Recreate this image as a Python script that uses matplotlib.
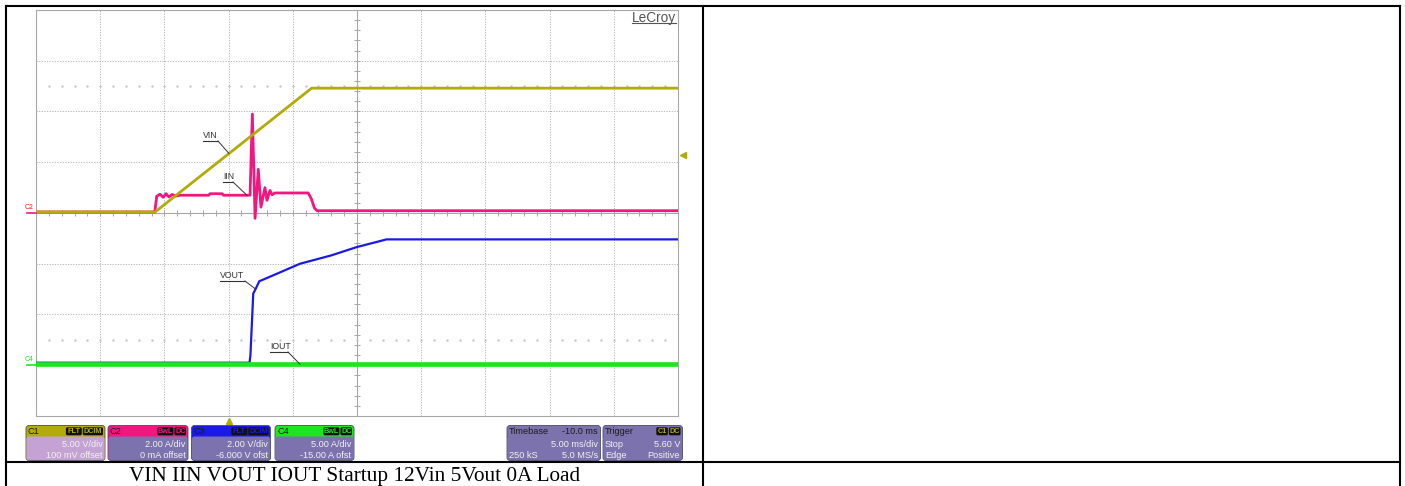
import numpy as np
import matplotlib.pyplot as plt
from matplotlib.patches import FancyBboxPatch
from matplotlib.transforms import offset_copy

W, H = 1405, 486
SANS = 'Liberation Sans'

# time in ms, trigger at t = 0, 5 ms/div
vin_t = [-15.0, -5.73, 6.47, 35.0]
vin_v = [0.0, 0.0, 12.2, 12.2]

iin_t = [-15.0, -5.75, -5.6, -5.35, -5.1, -4.88, -4.64, -4.41, -4.1, -3.8,
         -1.55, -1.45, -0.5, -0.4, 1.67, 1.85, 2.06, 2.31, 2.52, 2.83,
         2.99, 3.22, 3.38, 3.61, 6.2, 6.45, 6.68, 6.88, 35.0]
iin_a = [0.04, 0.04, 0.66, 0.74, 0.62, 0.76, 0.63, 0.73, 0.67, 0.70,
         0.70, 0.76, 0.76, 0.70, 0.70, 3.9, -0.21, 1.72, 0.23, 1.0,
         0.5, 0.89, 0.72, 0.79, 0.79, 0.55, 0.2, 0.09, 0.09]

vout_t = [-15.0, 1.63, 1.7, 1.92, 2.05, 2.39, 3.5, 5.56, 8.0, 10.0, 12.0, 12.3, 35.0]
vout_v = [0.1, 0.1, 0.4, 2.83, 2.95, 3.31, 3.55, 4.0, 4.33, 4.66, 4.92, 4.96, 4.96]

iout_t = [-15.0, 35.0]
iout_a = [0.1, 0.1]

# channel (scale per div, offset)
C1 = (5.0, 0.1)
C2 = (2.0, 0.0)
C3 = (2.0, -6.0)
C4 = (5.0, -15.0)
trig_level = 5.6

col_c1 = '#b3ab08'
col_c2 = '#f2167e'
col_c3 = '#1a1ae8'
col_c4 = '#1ee61e'


def div(vals, ch):
    return (np.asarray(vals, dtype=float) + ch[1]) / ch[0]


fig = plt.figure(figsize=(W / 100, H / 100), dpi=100)
fig.patch.set_facecolor('white')

# scope graticule
ax = fig.add_axes([36 / W, 1 - 416 / H, 642 / W, 406 / H])
ax.set_xlim(-15, 35)
ax.set_ylim(-4, 4)
ax.set_xticks(np.arange(-15, 35.1, 5))
ax.set_yticks(np.arange(-4, 4.1, 1))
ax.tick_params(length=0, labelbottom=False, labelleft=False)
ax.grid(True, color='#b4b4b4', lw=0.7, ls=(0, (1.2, 1.5)))
for s in ax.spines.values():
    s.set_color('#a8a8a8')
    s.set_linewidth(0.8)
ax.axhline(0, color='#a8a8a8', lw=0.8)
ax.axvline(10, color='#a8a8a8', lw=0.8)
ax.plot(np.arange(-15, 35.1, 1), np.zeros(51), ls='none', marker='|',
        ms=5, mew=0.7, color='#a8a8a8')
ax.plot(np.full(41, 10.0), np.arange(-4, 4.01, 0.2), ls='none', marker='_',
        ms=5, mew=0.7, color='#a8a8a8')
for yy in (2.5, -2.5):
    ax.plot(np.arange(-14, 35, 1), np.full(49, yy), ls='none', marker='.',
            ms=1.4, color='#c4c4c4')

ax.plot(vout_t, div(vout_v, C3), color=col_c3, lw=1.6, zorder=3)
ax.plot(iout_t, div(iout_a, C4), color=col_c4, lw=3.4, zorder=4)
ax.plot(iin_t, div(iin_a, C2), color=col_c2, lw=2.0, zorder=3)
ax.plot(vin_t, div(vin_v, C1), color=col_c1, lw=2.0, zorder=4)

# trigger markers
ax.plot([35], div([trig_level], C1), marker='<', ms=5, color=col_c1,
        clip_on=False, transform=offset_copy(ax.transData, fig=fig, x=5, y=0, units='dots'))
ax.plot([0], [-4], marker='^', ms=5, color=col_c1, clip_on=False,
        transform=offset_copy(ax.transData, fig=fig, x=0, y=-5, units='dots'))


def to_px(t, d):
    x, y = ax.transData.transform((t, d))
    return x, H - y


# overlay in pixel units
ov = fig.add_axes([0, 0, 1, 1], zorder=5)
ov.set_xlim(0, W)
ov.set_ylim(H, 0)
ov.axis('off')
ov.patch.set_alpha(0)

# ground markers on the left
_, y12 = to_px(-15, div([0.0], C2)[0])
ov.plot([27, 36], [y12, y12], color=col_c2, lw=1.2)
ov.text(25, y12 - 2, 'C1', color=col_c1, fontsize=5, family=SANS, va='bottom')
ov.text(25, y12 - 2, 'C2', color=col_c2, fontsize=5, family=SANS, va='bottom', alpha=0.7)
_, y4 = to_px(-15, div([0.0], C4)[0])
ov.plot([27, 36], [y4, y4], color=col_c4, lw=1.2)
ov.text(25, y4 - 2, 'C4', color=col_c4, fontsize=5, family=SANS, va='bottom')

# trace labels with leaders
labels = [
    ('VIN', vin_t, vin_v, C1, 0.03, 203, 141, 15),
    ('IIN', iin_t, iin_a, C2, 1.43, 223, 182, 10),
    ('VOUT', vout_t, vout_v, C3, 2.1, 220, 281, 25),
    ('IOUT', iout_t, iout_a, C4, 5.56, 270, 352, 18),
]
for name, ts, vs, ch, t0, x0, yu, w in labels:
    tx, ty = to_px(t0, div([np.interp(t0, ts, vs)], ch)[0])
    ov.text(x0, yu - 1, name, fontsize=6.3, family=SANS, color='#333333',
            ha='left', va='bottom')
    ov.plot([x0, x0 + w], [yu, yu], color='#333333', lw=0.8)
    ov.plot([x0 + w, tx], [yu, ty], color='#333333', lw=0.7)

# LeCroy logo
ov.text(632, 22, 'LeCroy', fontsize=9.8, family=SANS, color='#555555',
        ha='left', va='baseline')
ov.plot([632, 676], [23.5, 23.5], color='#555555', lw=0.8)

# info boxes
slate = '#7b72ae'
TOP, MID, BOT = 425.5, 436.5, 460.5


def tag_row(x_right, tags, color):
    x = x_right
    for tg in reversed(tags):
        w = len(tg) * 4.3 + 3
        ov.add_patch(FancyBboxPatch((x - w, TOP + 1.8), w, 8,
                                    boxstyle='round,pad=0,rounding_size=1.5',
                                    fc='#111111', ec='none'))
        ov.text(x - w / 2, TOP + 5.9, tg, fontsize=5.2, family=SANS,
                weight='bold', color=color, ha='center', va='center')
        x -= w + 1


def panel(x0, x1, head, body, title, tags, tag_col, left_rows, right_rows, head_right=''):
    ov.add_patch(FancyBboxPatch((x0, TOP), x1 - x0, BOT - TOP,
                                boxstyle='round,pad=0,rounding_size=3',
                                fc=head, ec='#4a4a66', lw=0.6))
    ov.add_patch(FancyBboxPatch((x0 + 0.4, MID), x1 - x0 - 0.8, BOT - MID - 0.4,
                                boxstyle='round,pad=0,rounding_size=2.5',
                                fc=body, ec='none'))
    ov.text(x0 + 2, TOP + 5.5, title, fontsize=6.6, family=SANS, color='#1c1c1c',
            ha='left', va='center')
    if head_right:
        ov.text(x1 - 2.5, TOP + 5.5, head_right, fontsize=6.6, family=SANS,
                color='#1c1c1c', ha='right', va='center')
    if tags:
        tag_row(x1 - 2, tags, tag_col)
    for i, s in enumerate(right_rows):
        ov.text(x1 - 2.5, 444.5 + i * 10.5, s, fontsize=6.6, family=SANS,
                color='#f2f2f2', ha='right', va='center')
    for i, s in enumerate(left_rows):
        ov.text(x0 + 2, 444.5 + i * 10.5, s, fontsize=6.6, family=SANS,
                color='#f2f2f2', ha='left', va='center')


panel(26, 105, col_c1, '#c4a2d4', 'C1', ['FLT', 'DCIM'], col_c1, [],
      ['5.00 V/div', '100 mV offset'])
panel(108, 188, col_c2, slate, 'C2', ['BwL', 'DC'], col_c2, [],
      ['2.00 A/div', '0 mA offset'])
panel(191.5, 270.5, col_c3, slate, 'C3', ['FLT', 'DCIM'], col_c3, [],
      ['2.00 V/div', '-6.000 V ofst'])
panel(275, 354, col_c4, slate, 'C4', ['BwL', 'DC'], col_c4, [],
      ['5.00 A/div', '-15.00 A ofst'])
panel(507, 600.5, slate, slate, 'Timebase', [], None, ['', '250 kS'],
      ['5.00 ms/div', '5.0 MS/s'], head_right='-10.0 ms')
panel(603, 682.5, slate, slate, 'Trigger', ['C1', 'DC'], col_c1, ['Stop', 'Edge'],
      ['5.60 V', 'Positive'])

# table frame
kw = dict(color='black', lw=1.5, solid_capstyle='projecting')
ov.plot([6, 1400], [6, 6], **kw)
ov.plot([6, 6], [6, H], **kw)
ov.plot([1400, 1400], [6, H], **kw)
ov.plot([703, 703], [6, H], **kw)
ov.plot([6, 1400], [461.5, 461.5], **kw)

ov.text(354.5, 481, 'VIN IIN VOUT IOUT Startup 12Vin 5Vout 0A Load',
        fontsize=15.3, family='Liberation Serif', color='black',
        ha='center', va='baseline')

fig.savefig('out.png', dpi=100)
